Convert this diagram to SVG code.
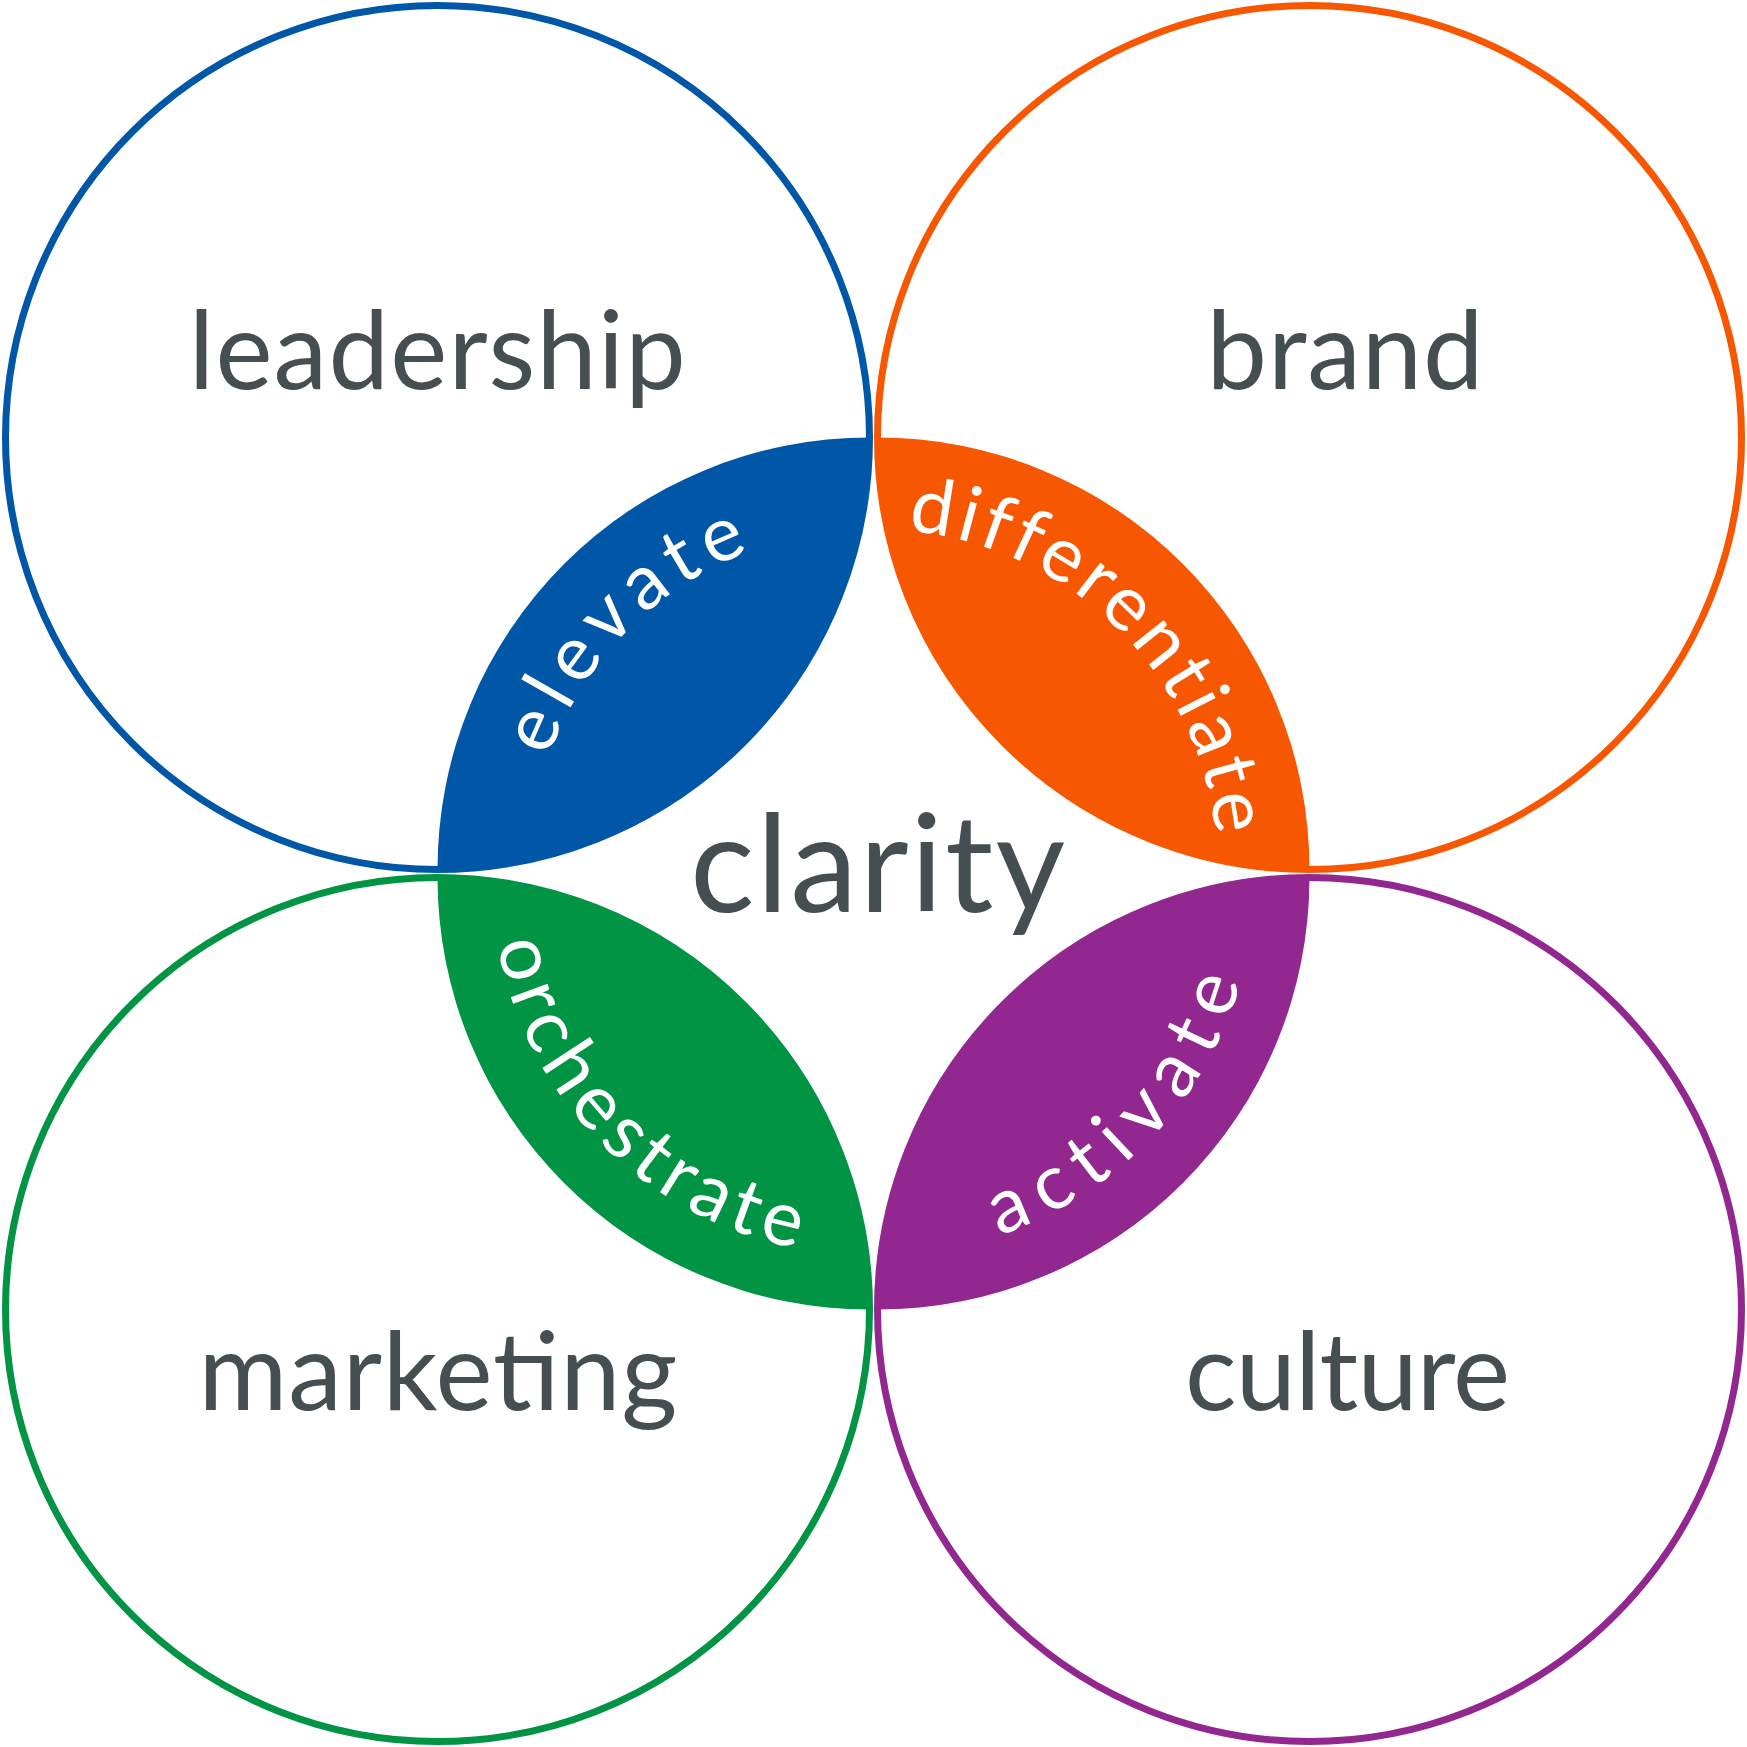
<svg xmlns="http://www.w3.org/2000/svg" width="1747" height="1747" viewBox="0 0 1747 1747">
<style>
.ring{fill:none;stroke-width:7}
.lbl{font-family:Lato,"Open Sans","Liberation Sans",sans-serif;fill:#454f51;text-anchor:middle}
.big{font-size:108px}
.arc{font-family:Lato,"Open Sans","Liberation Sans",sans-serif;fill:#ffffff;font-size:77px}
</style>
<defs>
<path id="p-elevate" d="M 529.5 869.5 A 340 340 0 0 1 869.5 529.5"/>
<path id="p-diff" d="M 877.5 529.5 A 340 340 0 0 1 1217.5 869.5"/>
<path id="p-orch" d="M 491.5 877.5 A 378 378 0 0 0 869.5 1255.5"/>
<path id="p-act" d="M 877.5 1255.5 A 378 378 0 0 0 1255.5 877.5"/>
</defs>
<rect width="1747" height="1747" fill="#ffffff"/>
<g id="leadership">
<circle class="ring" cx="437.5" cy="437.5" r="432" stroke="#0057a8"/>
<text class="lbl big" x="437.2" y="389" textLength="497" lengthAdjust="spacing">leadership</text>
</g>
<g id="brand">
<circle class="ring" cx="1309.5" cy="437.5" r="432" stroke="#f75700"/>
<text class="lbl big" x="1345" y="389" textLength="277" lengthAdjust="spacing">brand</text>
</g>
<g id="marketing">
<circle class="ring" cx="437.5" cy="1309.5" r="432" stroke="#009444"/>
<text class="lbl big" x="438" y="1410" textLength="479" lengthAdjust="spacing">marketing</text>
</g>
<g id="culture">
<circle class="ring" cx="1309.5" cy="1309.5" r="432" stroke="#92278f"/>
<text class="lbl big" x="1347.5" y="1410" textLength="325" lengthAdjust="spacing">culture</text>
</g>
<g id="elevate">
<path d="M 437.5 869.5 A 432 432 0 0 1 869.5 437.5 A 432 432 0 0 1 437.5 869.5 Z" fill="#0057a8"/>
<text class="arc" letter-spacing="9"><textPath href="#p-elevate" startOffset="50%" text-anchor="middle">elevate</textPath></text>
</g>
<g id="differentiate">
<path d="M 877.5 437.5 A 432 432 0 0 1 1309.5 869.5 A 432 432 0 0 1 877.5 437.5 Z" fill="#f75700"/>
<text class="arc" letter-spacing="4.4"><textPath href="#p-diff" startOffset="50%" text-anchor="middle">differentiate</textPath></text>
</g>
<g id="orchestrate">
<path d="M 437.5 877.5 A 432 432 0 0 1 869.5 1309.5 A 432 432 0 0 1 437.5 877.5 Z" fill="#009444"/>
<text class="arc" letter-spacing="7"><textPath href="#p-orch" startOffset="50%" text-anchor="middle">orchestrate</textPath></text>
</g>
<g id="activate">
<path d="M 877.5 1309.5 A 432 432 0 0 1 1309.5 877.5 A 432 432 0 0 1 877.5 1309.5 Z" fill="#92278f"/>
<text class="arc" letter-spacing="14"><textPath href="#p-act" startOffset="52.7%" text-anchor="middle">activate</textPath></text>
</g>
<g id="clarity">
<text class="lbl" x="877.5" y="912" font-size="135" textLength="375" lengthAdjust="spacing">clarity</text>
</g>
<g id="connectors"></g>
</svg>
